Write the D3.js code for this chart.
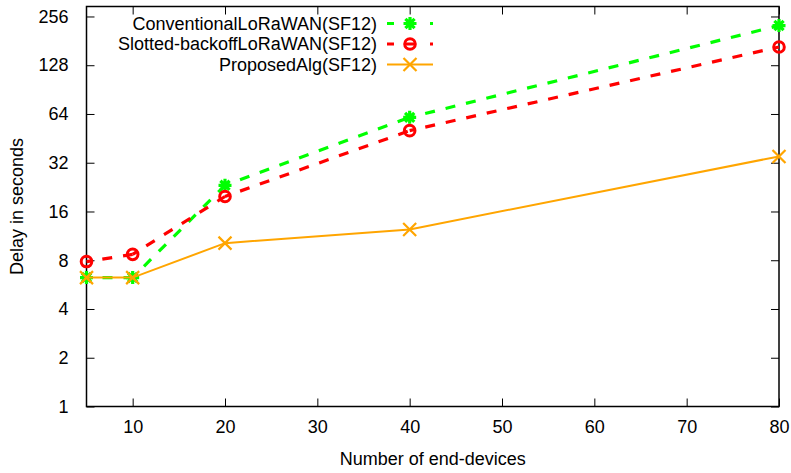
<!DOCTYPE html>
<html><head><meta charset="utf-8">
<script src="https://cdn.jsdelivr.net/npm/d3@7"></script>
<style>body{margin:0;background:#fff}svg{display:block}text{font-family:"Liberation Sans",Arial,sans-serif;font-size:18px;fill:#000}</style>
</head><body>
<script>
const devices = [5, 10, 20, 40, 80];
const conventional = [6.25, 6.25, 23.2, 61, 225];
const slotted = [7.85, 8.7, 19.8, 50.5, 166];
const proposed = [6.25, 6.25, 10.2, 12.4, 35];
const seriesNames = ["ConventionalLoRaWAN(SF12)", "Slotted-backoffLoRaWAN(SF12)", "ProposedAlg(SF12)"];
const xTicks = [10, 20, 30, 40, 50, 60, 70, 80];
const yTicks = [1, 2, 4, 8, 16, 32, 64, 128, 256];

const W = 791, H = 473;
const L = 86.5, R = 779, T = 6.5, B = 406.5;
const FONT = "Liberation Sans, Arial, sans-serif";
const svg = d3.select("body").append("svg").attr("width", W).attr("height", H);
svg.append("rect").attr("width", W).attr("height", H).attr("fill", "#fff");

const x = d3.scaleLinear().domain([5, 80]).range([L, R]);
const y = d3.scaleLog().base(2).domain([1, 295]).range([B, T]);

const fmt = d => String(d);
const tk = 8;
svg.append("g").attr("transform", `translate(0,${B})`)
  .call(d3.axisBottom(x).tickValues(xTicks).tickFormat(fmt).tickSizeInner(-tk).tickSizeOuter(0).tickPadding(14))
  .call(g => { g.select(".domain").remove(); g.selectAll("line").attr("stroke", "#000"); g.selectAll("text").attr("font-size", "18px").attr("font-family", FONT); });
svg.append("g").attr("transform", `translate(0,${T})`)
  .call(d3.axisTop(x).tickValues(xTicks).tickFormat("").tickSizeInner(-tk).tickSizeOuter(0))
  .call(g => { g.select(".domain").remove(); g.selectAll("line").attr("stroke", "#000"); });
svg.append("g").attr("transform", `translate(${L},0)`)
  .call(d3.axisLeft(y).tickValues(yTicks).tickFormat(fmt).tickSizeInner(-tk).tickSizeOuter(0).tickPadding(18))
  .call(g => { g.select(".domain").remove(); g.selectAll("line").attr("stroke", "#000"); g.selectAll("text").attr("font-size", "18px").attr("font-family", FONT); });
svg.append("g").attr("transform", `translate(${R},0)`)
  .call(d3.axisRight(y).tickValues(yTicks).tickFormat("").tickSizeInner(-tk).tickSizeOuter(0))
  .call(g => { g.select(".domain").remove(); g.selectAll("line").attr("stroke", "#000"); });

svg.append("rect").attr("x", L).attr("y", T).attr("width", R - L).attr("height", B - T)
  .attr("fill", "none").attr("stroke", "#000").attr("stroke-width", 1.5);

svg.append("text").attr("x", (L + R) / 2).attr("y", 465).attr("text-anchor", "middle").text("Number of end-devices");
svg.append("text").attr("transform", `translate(23,${(T + B) / 2}) rotate(-90)`).attr("text-anchor", "middle").text("Delay in seconds");

const starPath = "M-6.5,0H6.5M0,-6.5V6.5M-4.6,-4.6L4.6,4.6M-4.6,4.6L4.6,-4.6";
const crossPath = "M-6.5,-6.5L6.5,6.5M-6.5,6.5L6.5,-6.5";

const series = [
  {name: seriesNames[0], values: conventional, color: "#00ff00", dash: true, width: 3.2, marker: "star"},
  {name: seriesNames[1], values: slotted, color: "#ff0000", dash: true, width: 3.2, marker: "circle"},
  {name: seriesNames[2], values: proposed, color: "#ffa500", dash: false, width: 2, marker: "cross"}
];

function drawMarker(g, type, cx, cy, color) {
  if (type === "circle") {
    g.append("circle").attr("cx", cx).attr("cy", cy).attr("r", 5.3).attr("fill", "none").attr("stroke", color).attr("stroke-width", 3);
  } else {
    g.append("path").attr("d", type === "star" ? starPath : crossPath).attr("transform", `translate(${cx},${cy})`)
      .attr("fill", "none").attr("stroke", color).attr("stroke-width", type === "star" ? 3.2 : 2.2);
  }
}

const plot = svg.append("g");
series.forEach(s => {
  const g = plot.append("g");
  const pts = devices.map((d, i) => [x(d), y(s.values[i])]);
  if (s.dash) {
    for (let i = 0; i < pts.length - 1; i++) {
      g.append("path").attr("d", d3.line()([pts[i], pts[i + 1]])).attr("fill", "none")
        .attr("stroke", s.color).attr("stroke-width", s.width).attr("stroke-dasharray", "10,11").attr("stroke-dashoffset", 5);
    }
  } else {
    g.append("path").attr("d", d3.line()(pts)).attr("fill", "none").attr("stroke", s.color).attr("stroke-width", s.width);
  }
  pts.forEach(p => drawMarker(g, s.marker, p[0], p[1], s.color));
});

const legY = [23.5, 44, 64.5];
series.forEach((s, i) => {
  const g = svg.append("g");
  g.append("text").attr("x", 377).attr("y", legY[i]).attr("dy", "0.35em").attr("text-anchor", "end").text(s.name);
  const ln = g.append("line").attr("x1", 387).attr("x2", 433).attr("y1", legY[i]).attr("y2", legY[i])
    .attr("stroke", s.color).attr("stroke-width", s.width);
  if (s.dash) ln.attr("stroke-dasharray", "7,12,8,16,3,100");
  drawMarker(g, s.marker, 410, legY[i], s.color);
});
</script>
</body></html>
